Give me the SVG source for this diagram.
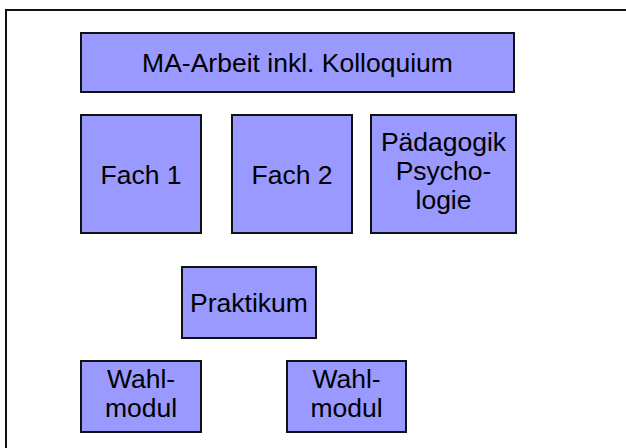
<svg xmlns="http://www.w3.org/2000/svg" width="626" height="448" viewBox="0 0 626 448">
<style>
.box{fill:#9999FF;stroke:#111;stroke-width:2}
.t{font-family:"Liberation Sans",Arial,sans-serif;font-size:26.5px;fill:#000;text-anchor:middle}
</style>
<rect width="626" height="448" fill="#fff"/>
<rect x="6" y="10" width="640" height="460" fill="none" stroke="#111" stroke-width="2"/>
<g id="ma"><rect class="box" x="81" y="33" width="433" height="59"/><text class="t" x="297.5" y="72">MA-Arbeit inkl. Kolloquium</text></g>
<g id="fach1"><rect class="box" x="81" y="115" width="120" height="118"/><text class="t" x="141" y="184">Fach 1</text></g>
<g id="fach2"><rect class="box" x="232" y="115" width="120" height="118"/><text class="t" x="292" y="184">Fach 2</text></g>
<g id="paed"><rect class="box" x="371" y="115" width="145" height="118"/><text class="t" x="443.5" y="151">Pädagogik</text><text class="t" x="443.5" y="180">Psycho-</text><text class="t" x="443.5" y="209">logie</text></g>
<g id="praktikum"><rect class="box" x="182" y="267" width="134" height="71"/><text class="t" x="249" y="311.5">Praktikum</text></g>
<g id="wahl1"><rect class="box" x="81" y="361" width="120" height="71"/><text class="t" x="141" y="388">Wahl-</text><text class="t" x="141" y="417">modul</text></g>
<g id="wahl2"><rect class="box" x="287" y="361" width="119" height="71"/><text class="t" x="346.5" y="388">Wahl-</text><text class="t" x="346.5" y="417">modul</text></g>
<g id="connectors"></g>
</svg>
